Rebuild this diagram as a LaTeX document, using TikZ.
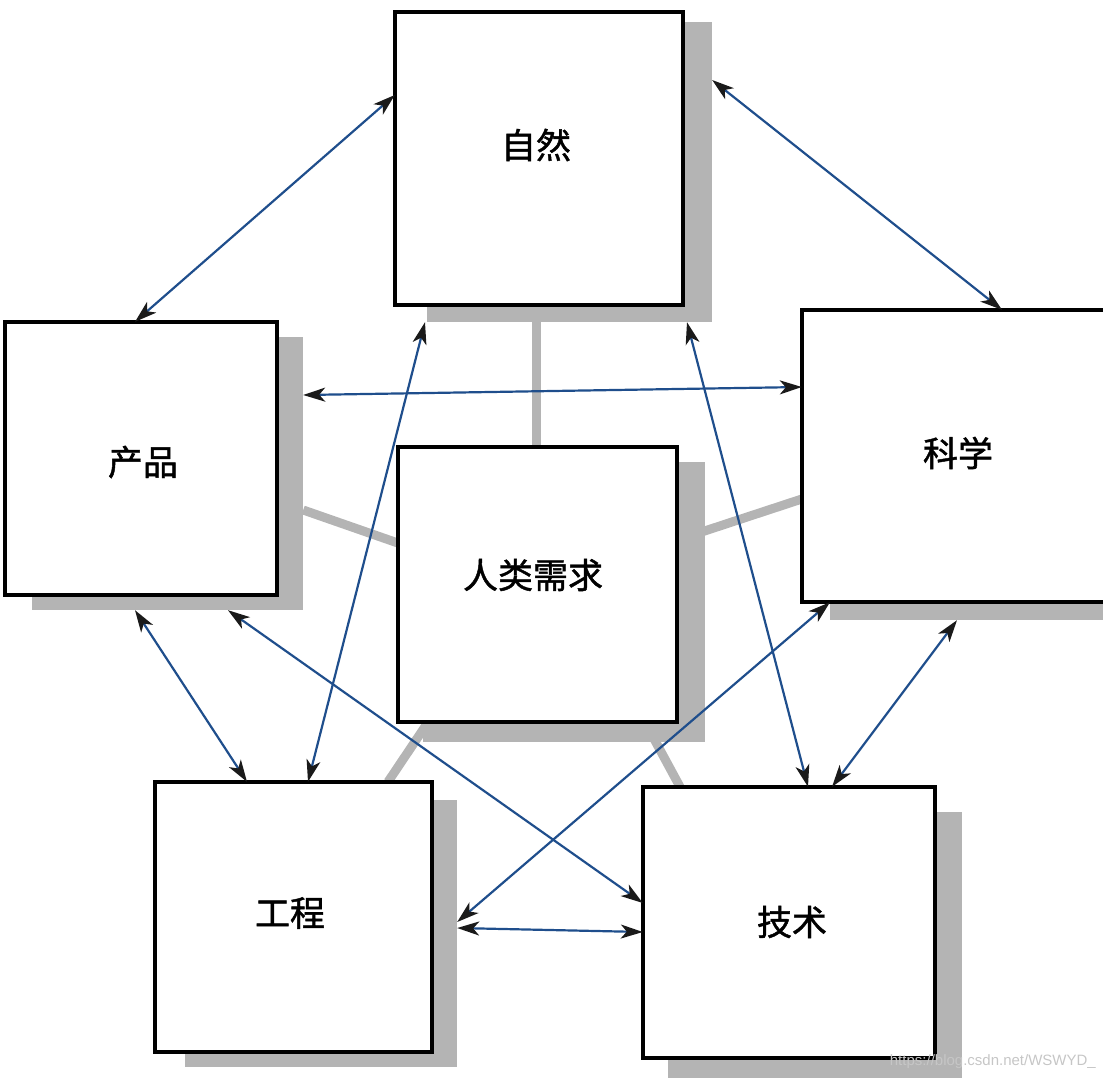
\documentclass[tikz,border=0pt]{standalone}
\usepackage{fontspec}
\newfontfamily\cjk[FakeBold=1.3]{Noto Sans CJK SC}
\newfontfamily\wmfont{Liberation Sans}
\usetikzlibrary{arrows.meta,fit}
\definecolor{arrowblue}{HTML}{1F4E8C}
\definecolor{shadowgray}{HTML}{B4B4B4}
\definecolor{tipcol}{HTML}{1A1A1A}
\tikzset{
  box/.style={draw=black, line width=3.2pt, fill=white, inner sep=0pt},
  anchorbox/.style={draw=none, fill=none, inner sep=0pt},
  link/.style={draw=shadowgray, line width=9pt},
  rel/.style={draw=arrowblue, line width=2.2pt, <->,
    >={Stealth[length=22pt,width=14pt,inset=6pt,color=tipcol]}},
  lbl/.style={font=\cjk\fontsize{35}{40}\selectfont, text=black, inner sep=0pt}
}
\begin{document}
\begin{tikzpicture}[x=1pt,y=-1pt]
\useasboundingbox (0,0) rectangle (1103,1080);
\clip (0,0) rectangle (1103,1080);
% reference geometry of boxes and shadows
\path node[anchorbox, fit={(395,12) (683,305)}] (ziran) {}
      node[anchorbox, fit={(5,322) (277,595)}] (chanpin) {}
      node[anchorbox, fit={(802,310) (1120,602)}] (kexue) {}
      node[anchorbox, fit={(398,447) (677,722)}] (renlei) {}
      node[anchorbox, fit={(155,782) (432,1052)}] (gongcheng) {}
      node[anchorbox, fit={(643,787) (935,1058)}] (jishu) {}
      node[anchorbox, fit={(427,22) (712,322)}] (ziranS) {}
      node[anchorbox, fit={(32,337) (303,610)}] (chanpinS) {}
      node[anchorbox, fit={(830,330) (1130,620)}] (kexueS) {}
      node[anchorbox, fit={(423,462) (705,742)}] (renleiS) {}
      node[anchorbox, fit={(185,800) (457,1067)}] (gongchengS) {}
      node[anchorbox, fit={(668,812) (962,1078)}] (jishuS) {};
% gray links from the centre
\draw[link] (536,0 |- renlei.north) -- (536,0 |- ziran.south);
\draw[link] (renlei.west |- 0,543) -- (chanpinS.east |- 0,510);
\draw[link] (renlei.east |- 0,540) -- (kexue.west |- 0,499);
\draw[link] (428,0 |- renlei.south) -- (388,0 |- gongcheng.north);
\draw[link] (645,0 |- renlei.south) -- (680,0 |- jishu.north);
% shadows
\foreach \s in {ziranS,chanpinS,kexueS,renleiS,gongchengS,jishuS}
  \fill[shadowgray] (\s.north west) rectangle (\s.south east);
% boxes drawn
\node[box, fit={(395,12) (683,305)}] (ziranB) {};
\node[box, fit={(5,322) (277,595)}] (chanpinB) {};
\node[box, fit={(802,310) (1120,602)}] (kexueB) {};
\node[box, fit={(398,447) (677,722)}] (renleiB) {};
\node[box, fit={(155,782) (432,1052)}] (gongchengB) {};
\node[box, fit={(643,787) (935,1058)}] (jishuB) {};
% labels
\node[lbl] (t1) at (536,145) {自然};
\node[lbl] (t2) at (143,462) {产品};
\node[lbl] (t3) at (958,453) {科学};
\node[lbl] (t4) at (533,575) {人类需求};
\node[lbl] (t5) at (290,913) {工程};
\node[lbl] (t6) at (792,922) {技术};
% blue relations
\draw[rel] (ziran.west |- 0,95) -- (135,0 |- chanpin.north);
\draw[rel] (ziranS.east |- 0,80) -- (1002,0 |- kexue.north);
\draw[rel] (chanpinS.east |- 0,395) -- (kexue.west |- 0,387);
\draw[rel] (425,0 |- ziranS.south) -- (308,0 |- gongcheng.north);
\draw[rel] (687,0 |- ziranS.south) -- (808,0 |- jishu.north);
\draw[rel] (135,0 |- chanpinS.south) -- (247,0 |- gongcheng.north);
\draw[rel] (228,0 |- chanpinS.south) -- (jishu.west |- 0,903);
\draw[rel] (830,0 |- kexue.south) -- (gongchengS.east |- 0,922);
\draw[rel] (957,0 |- kexueS.south) -- (832,0 |- jishu.north);
\draw[rel] (gongchengS.east |- 0,928) -- (jishu.west |- 0,932);
% watermark
\node[font=\wmfont\fontsize{15}{18}\selectfont, text=gray!45, anchor=east, inner sep=0pt] (wm) at (1096,1062) {https://blog.csdn.net/WSWYD\_};
\end{tikzpicture}
\end{document}
